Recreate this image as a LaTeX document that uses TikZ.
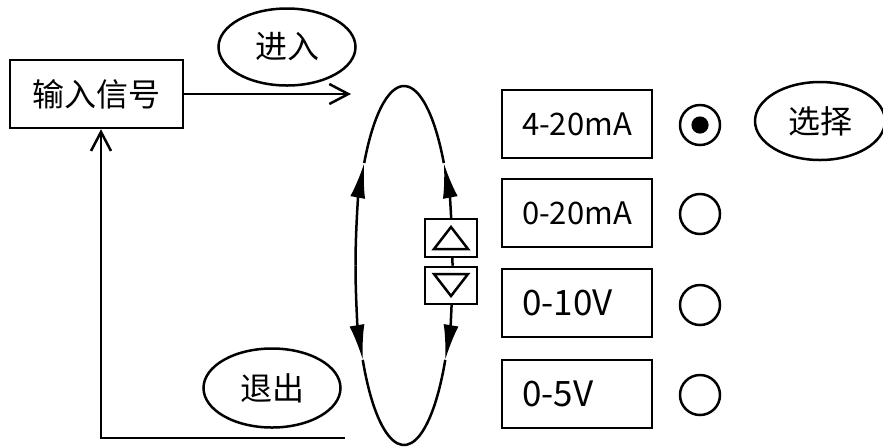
\documentclass[tikz,border=0pt]{standalone}
\usepackage{fontspec}
\setmainfont{Noto Sans CJK SC}
\usetikzlibrary{arrows.meta}
\usetikzlibrary{shapes.geometric}

\begin{document}
\begin{tikzpicture}[x=0.5pt, y=-0.5pt, line width=1.25pt,
    cjk/.style={font=\fontsize{16}{19}\selectfont},
    sigbox/.style={draw, minimum width=86.5pt, minimum height=34pt, inner sep=0pt, cjk},
    tagellipse/.style={draw, ellipse, minimum width=68.5pt, minimum height=38.5pt, inner sep=0pt, cjk},
    rangebox/.style={draw, minimum width=75pt, minimum height=34pt, text width=55pt, inner xsep=10pt, inner ysep=0pt, align=left},
    radio/.style={draw, circle, minimum size=20pt, inner sep=0pt},
    button/.style={draw, fill=white, minimum width=26pt, minimum height=19pt, inner sep=0pt},
    openarrow/.style={-{Straight Barb[length=9.5pt, width=10pt]}},
    cyclearrow/.style={-{Latex[length=17.5pt, width=7.5pt]}}
]
    \useasboundingbox (0,0) rectangle (883,446);

    \node[sigbox] (signal) at (96.5,94) {\raisebox{-3pt}{输入信号}};
    \node[tagellipse] (enter) at (287,47) {进入};
    \node[tagellipse, minimum height=39.5pt] (quit) at (272,388) {退出};
    \node[tagellipse, minimum width=65pt, minimum height=39pt] (select) at (820,121) {选择};

    \coordinate (enterEnd) at (351,94);
    \coordinate (quitStart) at (345,438);
    \coordinate (quitCorner) at (101,438);
    \draw[openarrow] (signal.east |- enterEnd) -- (enterEnd);
    \draw[openarrow] (quitStart) -- (quitCorner) -- (quitCorner |- signal.south);

    % selection loop
    \coordinate (loopc) at (404,265.5);
    \begin{scope}[shift={(loopc)}]
        \draw[cyclearrow] (180:48.5 and 179.5) arc[start angle=180, end angle=214.8, x radius=48.5, y radius=179.5];
        \draw (214.8:48.5 and 179.5) arc[start angle=214.8, end angle=325.2, x radius=48.5, y radius=179.5];
        \draw[cyclearrow] (0:48.5 and 179.5) arc[start angle=360, end angle=325.2, x radius=48.5, y radius=179.5];
        \draw[cyclearrow] (180:48.5 and 179.5) arc[start angle=180, end angle=148.3, x radius=48.5, y radius=179.5];
        \draw (148.3:48.5 and 179.5) arc[start angle=148.3, end angle=31.7, x radius=48.5, y radius=179.5];
        \draw[cyclearrow] (0:48.5 and 179.5) arc[start angle=0, end angle=31.7, x radius=48.5, y radius=179.5];
    \end{scope}

    \node[button] (up) at (451,238) {};
    \node[button, minimum height=18.5pt] (down) at (451,285.5) {};
    \draw[shift={(up.center)}] (-17,11) -- (17,11) -- (0,-11) -- cycle;
    \draw[shift={(down.center)}] (-17,-11.5) -- (17,-11.5) -- (0,10.5) -- cycle;

    % ranges
    \node[rangebox, font=\fontsize{15.5}{19}\selectfont] (r1) at (577,124) {\mbox{4-20mA}};
    \node[rangebox, font=\fontsize{15.5}{19}\selectfont] (r2) at (577,213) {\mbox{0-20mA}};
    \node[rangebox, font=\fontsize{17.5}{20}\selectfont] (r3) at (577,303) {\raisebox{-2.5pt}{0-10V}};
    \node[rangebox, font=\fontsize{17.5}{20}\selectfont] (r4) at (577,394) {\raisebox{-2pt}{0-5V}};

    \node[radio] (c1) at (700,125) {};
    \node[radio] (c2) at (700,214) {};
    \node[radio] (c3) at (700,305) {};
    \node[radio] (c4) at (700,395) {};
    \fill (c1.center) circle[radius=4.3pt];
\end{tikzpicture}
\end{document}
